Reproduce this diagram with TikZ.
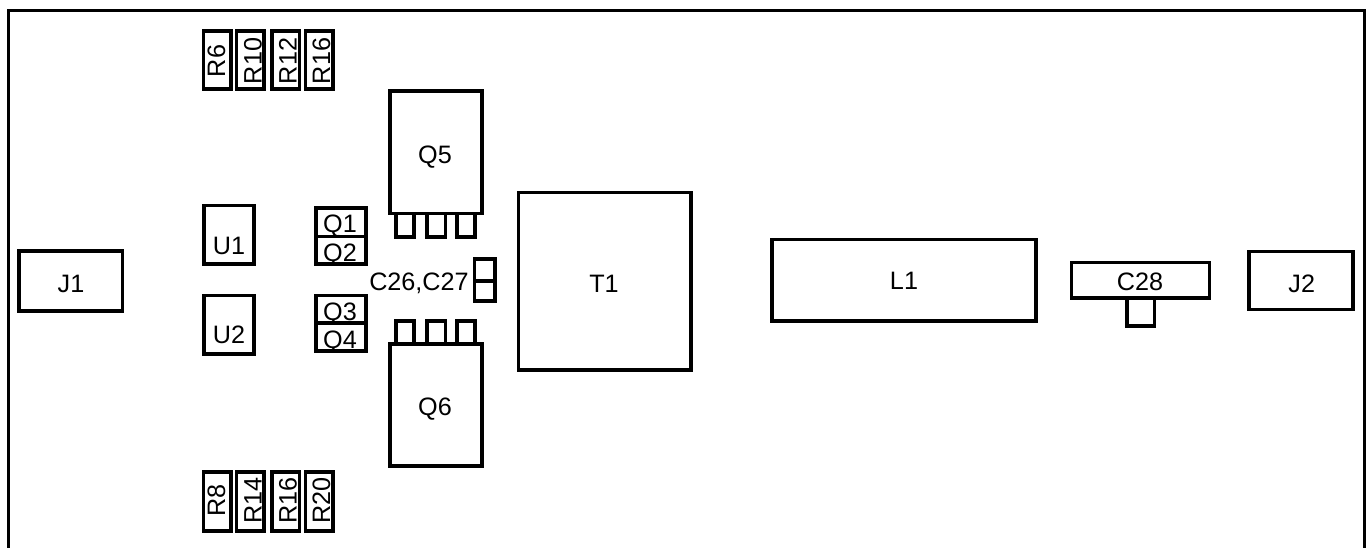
\documentclass[tikz,border=0pt]{standalone}
\usepackage{fontspec}
\setmainfont{Liberation Sans}
\newcommand{\bx}[5]{%
  \pgfmathsetmacro{\bxw}{#4-#2}\pgfmathsetmacro{\bxh}{#5-#3}%
  \pgfmathsetmacro{\bxx}{(#2+#4)/2}\pgfmathsetmacro{\bxy}{(#3+#5)/2}%
  \node[partbox,minimum width=\bxw pt,minimum height=\bxh pt] (#1) at (\bxx,\bxy) {};}
\newcommand{\tx}[4]{\node[parttext] (#1) at (#2,#3) {#4};}
\newcommand{\rx}[4]{\node[parttext,rotate=90] (#1) at (#2,#3) {#4};}
\begin{document}
\begin{tikzpicture}[x=1pt,y=-1pt,
  partbox/.style={draw=black,line width=3.4pt,fill=white,inner sep=0pt,outer sep=0pt},
  parttext/.style={inner sep=0pt,outer sep=0pt,anchor=base,font=\fontsize{25.2pt}{25.2pt}\selectfont,text=black},
  framepath/.style={draw=black,line width=3.4pt,line join=miter}]
\useasboundingbox (0,0) rectangle (1366,548);
\coordinate (fa) at (8.5,548);
\coordinate (fb) at (8.5,10.5);
\coordinate (fc) at (1364.5,10.5);
\coordinate (fd) at (1364.5,548);
\draw[framepath] (fa) -- (fb) -- (fc) -- (fd);
% resistors top
\bx{r6}{203.5}{31}{231}{89}\bx{r10}{236.5}{31}{264}{89}\bx{r12}{272}{31}{299.5}{89}\bx{r16}{305.5}{31}{333}{89}
% resistors bottom
\bx{r8}{203.5}{472}{231}{531}\bx{r14}{236.5}{472}{264}{531}\bx{r16b}{272}{472}{299.5}{531}\bx{r20}{305.5}{472}{333}{531}
\bx{u1}{204}{205.5}{254}{264}\bx{u2}{204}{295.5}{254}{354}
\bx{q1}{316}{208}{366}{236.5}\bx{q2}{316}{236.5}{366}{264}
\bx{q3}{316}{295.5}{366}{323}\bx{q4}{316}{323}{366}{351}
% Q5, Q6 with pins
\bx{p5a}{396}{213}{414}{237}\bx{p5b}{427}{213}{445.5}{237}\bx{p5c}{457}{213}{475}{237}
\bx{q5}{390}{91}{482}{213.5}
\bx{p6a}{396}{321}{414}{345}\bx{p6b}{427}{321}{445.5}{345}\bx{p6c}{457}{321}{475}{345}
\bx{q6}{390}{344}{482}{466}
\bx{c26}{474.5}{259}{495}{281}\bx{c27}{474.5}{281}{495}{301}
\bx{t1}{518.5}{192.5}{691}{370}
\bx{l1}{772}{239.5}{1036}{321}
\bx{j1}{19}{251}{122.5}{311}
\bx{c28p}{1127}{298}{1154.5}{326}
\bx{c28}{1071.5}{262.5}{1209.5}{298}
\bx{j2}{1249}{251.5}{1353}{309.5}
% labels
\rx{tr6}{225}{61}{R6}\rx{tr10}{261.7}{61}{R10}\rx{tr12}{296.7}{61}{R12}\rx{tr16}{330}{61}{R16}
\rx{tr8}{225}{500.7}{R8}\rx{tr14}{261.7}{500.7}{R14}\rx{tr16b}{296.7}{500.7}{R16}\rx{tr20}{330}{500.7}{R20}
\tx{tu1}{229}{254.5}{U1}\tx{tu2}{229}{343.5}{U2}
\tx{tq1}{340}{233}{Q1}\tx{tq2}{340}{261.2}{Q2}\tx{tq3}{340}{320}{Q3}\tx{tq4}{340}{348}{Q4}
\tx{tq5}{435}{164}{Q5}\tx{tq6}{435}{415}{Q6}
\tx{tc}{419}{290.7}{C26,C27}
\tx{tt1}{604}{292}{T1}\tx{tl1}{904}{290}{L1}\tx{tj1}{71}{293}{J1}
\tx{tc28}{1140}{290.3}{C28}\tx{tj2}{1301.7}{292}{J2}
\end{tikzpicture}
\end{document}
